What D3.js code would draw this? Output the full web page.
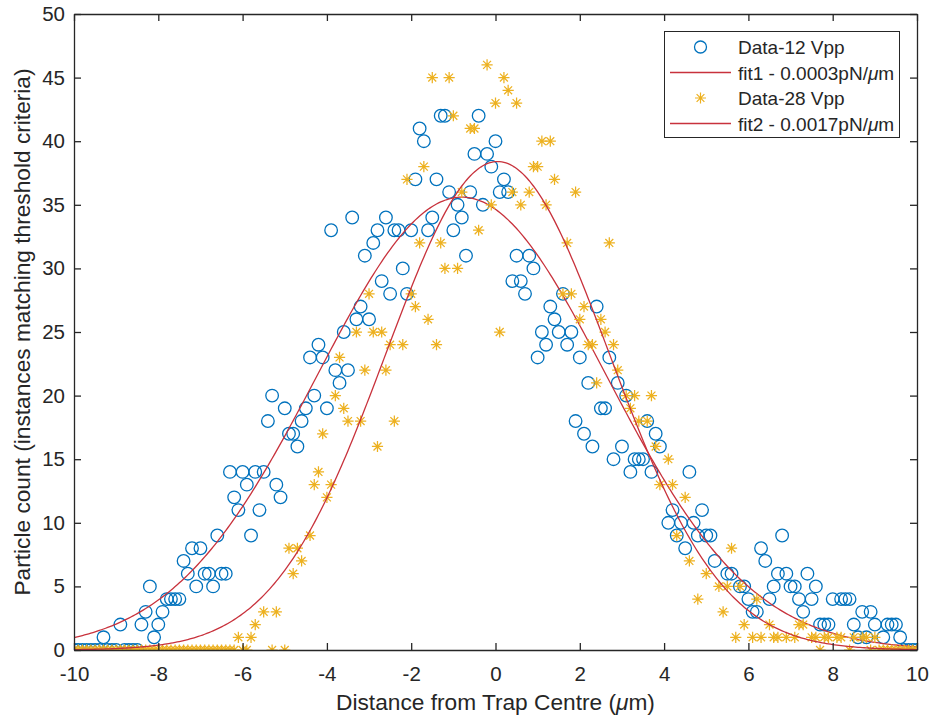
<!DOCTYPE html>
<html>
<head>
<meta charset="utf-8">
<script src="https://cdn.jsdelivr.net/npm/d3@7"></script>
<style>
  html, body { margin: 0; padding: 0; background: #fff; }
  svg { display: block; font-family: "Liberation Sans", Arial, Helvetica, sans-serif; }
</style>
</head>
<body>
<svg id="chart" width="930" height="719"></svg>
<script>
// ---- Data ---------------------------------------------------------------
// Histogram of particle positions (bin centre in µm, count per bin).
const x12 = [
  -10, -9.9, -9.8, -9.7, -9.6, -9.5, -9.4, -9.3, -9.2, -9.1, -9.0, -8.9, -8.8, -8.7, -8.6, -8.5,
  -8.4, -8.3, -8.2, -8.1, -8.0, -7.9, -7.8, -7.7, -7.6, -7.5, -7.4, -7.3, -7.2, -7.1, -7.0,
  -6.9, -6.8, -6.7, -6.6, -6.5, -6.4, -6.3, -6.2, -6.1, -6.0, -5.9, -5.8, -5.7, -5.6, -5.5,
  -5.4, -5.3, -5.2, -5.1, -5.0, -4.9, -4.8, -4.7, -4.6, -4.5, -4.4, -4.3, -4.2, -4.1, -4.0,
  -3.9, -3.8, -3.7, -3.6, -3.5, -3.4, -3.3, -3.2, -3.1, -3.0, -2.9, -2.8, -2.7, -2.6, -2.5,
  -2.4, -2.3, -2.2, -2.1, -2.0, -1.9, -1.8, -1.7, -1.6, -1.5, -1.4, -1.3, -1.2, -1.1, -1.0,
  -0.9, -0.8, -0.7, -0.6, -0.5, -0.4, -0.3, -0.2, -0.1, 0.0, 0.1, 0.2, 0.3, 0.4, 0.5,
  0.6, 0.7, 0.8, 0.9, 1.0, 1.1, 1.2, 1.3, 1.4, 1.5, 1.6, 1.7, 1.8, 1.9, 2.0,
  2.1, 2.2, 2.3, 2.4, 2.5, 2.6, 2.7, 2.8, 2.9, 3.0, 3.1, 3.2, 3.3, 3.4, 3.5,
  3.6, 3.7, 3.8, 3.9, 4.1, 4.2, 4.3, 4.4, 4.5, 4.6, 4.7, 4.8, 4.9, 5.0, 5.1,
  5.2, 5.5, 5.6, 5.8, 5.9, 6.0, 6.1, 6.2, 6.3, 6.4, 6.5, 6.6, 6.7, 6.8, 6.9,
  7.0, 7.1, 7.2, 7.3, 7.4, 7.5, 7.6, 7.7, 7.8, 7.9, 8.0, 8.2, 8.3, 8.4, 8.5,
  8.6, 8.7, 8.8, 8.9, 9.0, 9.2, 9.3, 9.4, 9.5, 9.6, 9.7, 9.8, 9.9, 10.0
];
const y12 = [
  0, 0, 0, 0, 0, 0, 0, 1, 0, 0, 0, 2, 0, 0, 0, 0,
  2, 3, 5, 1, 2, 3, 4, 4, 4, 4, 7, 6, 8, 5, 8,
  6, 6, 5, 9, 6, 6, 14, 12, 11, 14, 13, 9, 14, 11, 14,
  18, 20, 13, 12, 19, 17, 17, 16, 18, 19, 23, 20, 24, 23, 19,
  33, 22, 21, 25, 22, 34, 26, 27, 31, 26, 32, 33, 29, 34, 28,
  33, 33, 30, 28, 33, 37, 41, 40, 33, 34, 37, 42, 42, 36, 33,
  35, 34, 31, 36, 39, 42, 35, 39, 38, 40, 36, 37, 36, 29, 31,
  29, 28, 31, 30, 23, 25, 24, 27, 26, 25, 28, 24, 25, 18, 23,
  17, 21, 16, 27, 19, 19, 23, 15, 21, 16, 20, 14, 15, 15, 15,
  18, 14, 17, 16, 10, 11, 9, 10, 8, 14, 10, 9, 11, 9, 9,
  7, 6, 6, 5, 5, 4, 3, 3, 8, 7, 4, 5, 6, 9, 6,
  5, 5, 4, 3, 6, 4, 5, 2, 2, 2, 4, 4, 4, 4, 2,
  1, 3, 1, 3, 2, 1, 2, 2, 2, 1, 0, 0, 0, 0
];

const x28 = [
  -10, -9.9, -9.8, -9.7, -9.6, -9.5, -9.4, -9.3, -9.2, -9.1, -9.0, -8.9, -8.8, -8.7, -8.6, -8.5,
  -8.4, -8.3, -8.2, -8.1, -8.0, -7.9, -7.8, -7.7, -7.6, -7.5, -7.4, -7.3, -7.2, -7.1, -7.0,
  -6.9, -6.8, -6.7, -6.6, -6.5, -6.4, -6.3, -6.2, -6.1, -6.0, -5.9, -5.8, -5.7, -5.5, -5.3,
  -5.2, -5.0, -4.9, -4.8, -4.7, -4.6, -4.4, -4.3, -4.2, -4.1, -4.0, -3.9, -3.8, -3.7, -3.6,
  -3.5, -3.3, -3.2, -3.1, -3.0, -2.9, -2.8, -2.7, -2.6, -2.5, -2.4, -2.2, -2.1, -2.0, -1.9,
  -1.8, -1.7, -1.6, -1.5, -1.4, -1.3, -1.2, -1.1, -1.0, -0.9, -0.8, -0.6, -0.5, -0.4, -0.2,
  -0.1, 0.0, 0.1, 0.2, 0.3, 0.4, 0.5, 0.6, 0.8, 0.9, 1.0, 1.1, 1.2, 1.3, 1.4,
  1.6, 1.7, 1.8, 1.9, 2.0, 2.1, 2.2, 2.3, 2.4, 2.5, 2.6, 2.7, 2.8, 2.9, 3.1,
  3.2, 3.3, 3.4, 3.6, 3.7, 3.8, 3.9, 4.1, 4.2, 4.3, 4.5, 4.6, 4.8, 5.0, 5.3,
  5.4, 5.5, 5.6, 5.7, 5.8, 5.9, 6.1, 6.2, 6.3, 6.5, 6.6, 6.7, 6.9, 7.1, 7.2,
  7.3, 7.5, 7.6, 7.7, 7.8, 7.9, 8.1, 8.2, 8.4, 8.5, 8.7, 8.8, 8.9, 9.0, 9.1,
  9.2, 9.3, 9.4, 9.5, 9.6, 9.7, 9.8, 9.9, 10.0
];
const y28 = [
  0, 0, 0, 0, 0, 0, 0, 0, 0, 0, 0, 0, 0, 0, 0, 0,
  0, 0, 0, 0, 0, 0, 0, 0, 0, 0, 0, 0, 0, 0, 0,
  0, 0, 0, 0, 0, 0, 0, 0, 1, 0, 0, 1, 2, 3, 0,
  3, 0, 8, 6, 8, 7, 9, 13, 14, 17, 12, 13, 20, 23, 19,
  18, 25, 18, 22, 28, 25, 16, 25, 22, 24, 18, 24, 37, 28, 27,
  32, 38, 26, 45, 24, 32, 30, 45, 42, 30, 36, 41, 41, 33, 46,
  35, 43, 25, 45, 44, 36, 43, 35, 36, 38, 38, 40, 35, 40, 37,
  28, 32, 28, 36, 26, 27, 24, 24, 21, 26, 25, 32, 24, 22, 20,
  19, 20, 18, 18, 20, 16, 13, 15, 13, 9, 12, 7, 4, 6, 5,
  3, 5, 8, 1, 5, 2, 1, 4, 1, 2, 1, 1, 1, 1, 2,
  2, 1, 1, 0, 1, 1, 1, 1, 0, 1, 1, 1, 0, 1, 0,
  0, 0, 0, 0, 0, 0, 0, 0, 0
];

// Gaussian fit coefficients  a·exp(-((x-b)/c)^2)
const fit1 = { a: 35.6, b: -0.8, c: 4.85 };
const fit2 = { a: 38.4, b: 0.05, c: 3.75 };

const xTicks = [-10, -8, -6, -4, -2, 0, 2, 4, 6, 8, 10];
const yTicks = [0, 5, 10, 15, 20, 25, 30, 35, 40, 45, 50];

// ---- Layout ----------------------------------------------------------------
const plot = { left: 74, right: 917, top: 14, bottom: 650 };
const AXIS = "#262626";
const BLUE = "#0072BD";
const GOLD = "#EDB120";
const RED = "#C8323C";

const svg = d3.select("#chart");
const x = d3.scaleLinear().domain([-10, 10]).range([plot.left, plot.right]);
const y = d3.scaleLinear().domain([0, 50]).range([plot.bottom, plot.top]);

const gauss = f => v => f.a * Math.exp(-Math.pow((v - f.b) / f.c, 2));
const fitSamples = d3.range(0, 401).map(i => -10 + i * 0.05);
const line = d3.line().x(d => x(d[0])).y(d => y(d[1]));

svg.append("clipPath").attr("id", "plotClip")
  .append("rect")
  .attr("x", plot.left).attr("y", plot.top)
  .attr("width", plot.right - plot.left).attr("height", plot.bottom - plot.top);

const marks = svg.append("g").attr("clip-path", "url(#plotClip)");

// asterisk marker: horizontal, vertical and two diagonal strokes
function starPath(r) {
  const d = r * Math.SQRT1_2;
  return `M${-r},0L${r},0M0,${-r}L0,${r}M${-d},${-d}L${d},${d}M${-d},${d}L${d},${-d}`;
}

// Data-12 Vpp circles
marks.append("g").selectAll("circle")
  .data(d3.zip(x12, y12))
  .join("circle")
  .attr("cx", d => x(d[0])).attr("cy", d => y(d[1]))
  .attr("r", 6.3)
  .attr("fill", "none").attr("stroke", BLUE).attr("stroke-width", 1.3);

// fit1
marks.append("path")
  .datum(fitSamples.map(v => [v, gauss(fit1)(v)]))
  .attr("d", line).attr("fill", "none").attr("stroke", RED).attr("stroke-width", 1.3);

// Data-28 Vpp asterisks
marks.append("g").selectAll("path")
  .data(d3.zip(x28, y28))
  .join("path")
  .attr("transform", d => `translate(${x(d[0])},${y(d[1])})`)
  .attr("d", starPath(5.6))
  .attr("fill", "none").attr("stroke", GOLD).attr("stroke-width", 1.25);

// fit2
marks.append("path")
  .datum(fitSamples.map(v => [v, gauss(fit2)(v)]))
  .attr("d", line).attr("fill", "none").attr("stroke", RED).attr("stroke-width", 1.3);

// ---- Axes ------------------------------------------------------------------
const fmt = d => String(d);
function styleAxis(g) {
  g.selectAll("path.domain").attr("stroke", AXIS).attr("stroke-width", 1.3);
  g.selectAll(".tick line").attr("stroke", AXIS).attr("stroke-width", 1.3);
  g.selectAll(".tick text").attr("fill", AXIS).attr("font-size", 20.5)
    .attr("font-family", "'Liberation Sans', Arial, sans-serif");
}

svg.append("g").attr("transform", `translate(0,${plot.bottom})`)
  .call(d3.axisBottom(x).tickValues(xTicks).tickFormat(fmt).tickSizeInner(-7).tickSizeOuter(0).tickPadding(16.5))
  .call(styleAxis);
svg.append("g").attr("transform", `translate(0,${plot.top})`)
  .call(d3.axisTop(x).tickValues(xTicks).tickFormat("").tickSizeInner(-7).tickSizeOuter(0))
  .call(styleAxis);
svg.append("g").attr("transform", `translate(${plot.left},0)`)
  .call(d3.axisLeft(y).tickValues(yTicks).tickFormat(fmt).tickSizeInner(-7).tickSizeOuter(0).tickPadding(9))
  .call(styleAxis);
svg.append("g").attr("transform", `translate(${plot.right},0)`)
  .call(d3.axisRight(y).tickValues(yTicks).tickFormat("").tickSizeInner(-7).tickSizeOuter(0))
  .call(styleAxis);

// axis titles
const xt = svg.append("text")
  .attr("x", (plot.left + plot.right) / 2).attr("y", 710)
  .attr("text-anchor", "middle").attr("font-size", 22.7).attr("fill", AXIS);
xt.append("tspan").text("Distance from Trap Centre (");
xt.append("tspan").attr("font-style", "italic").text("μ");
xt.append("tspan").text("m)");

svg.append("text")
  .attr("transform", `translate(30,${(plot.top + plot.bottom) / 2}) rotate(-90)`)
  .attr("text-anchor", "middle").attr("font-size", 22.7).attr("fill", AXIS)
  .text("Particle count (instances matching threshold criteria)");

// ---- Legend ----------------------------------------------------------------
const legend = svg.append("g");
legend.append("rect")
  .attr("x", 664.5).attr("y", 31.5).attr("width", 235).attr("height", 106)
  .attr("fill", "#fff").attr("stroke", AXIS).attr("stroke-width", 1);

const entries = [
  { kind: "circle", label: ["Data-12 Vpp"] },
  { kind: "line", label: ["fit1 - 0.0003pN/", "μ", "m"] },
  { kind: "star", label: ["Data-28 Vpp"] },
  { kind: "line", label: ["fit2 - 0.0017pN/", "μ", "m"] }
];
entries.forEach((e, i) => {
  const cy = 47 + i * 25.5;
  if (e.kind === "circle") {
    legend.append("circle").attr("cx", 700.5).attr("cy", cy).attr("r", 6)
      .attr("fill", "none").attr("stroke", BLUE).attr("stroke-width", 1.3);
  } else if (e.kind === "star") {
    legend.append("path").attr("transform", `translate(700.5,${cy})`).attr("d", starPath(5.5))
      .attr("fill", "none").attr("stroke", GOLD).attr("stroke-width", 1.2);
  } else {
    legend.append("line").attr("x1", 670).attr("x2", 731).attr("y1", cy).attr("y2", cy)
      .attr("stroke", RED).attr("stroke-width", 1.3);
  }
  const t = legend.append("text").attr("x", 738).attr("y", cy + 7)
    .attr("font-size", 19).attr("fill", AXIS);
  e.label.forEach(s => {
    const ts = t.append("tspan").text(s);
    if (s === "μ") ts.attr("font-style", "italic");
  });
});
</script>
</body>
</html>
